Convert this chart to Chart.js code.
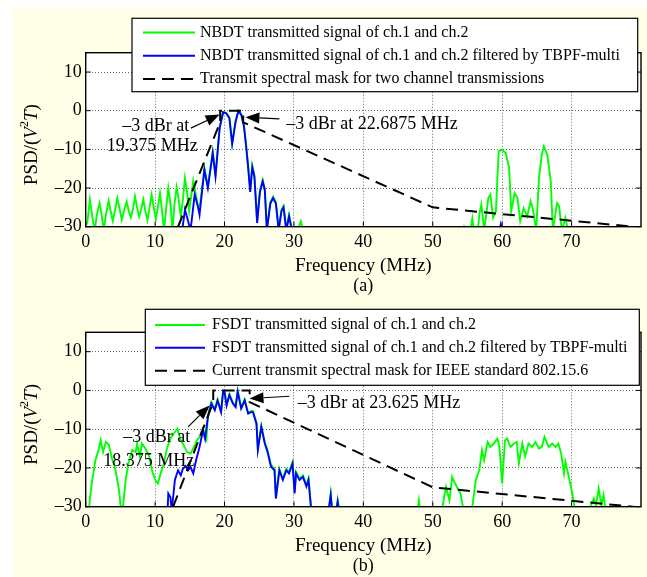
<!DOCTYPE html>
<html>
<head>
<meta charset="utf-8">
<script src="https://cdn.jsdelivr.net/npm/chart.js@4.4.0/dist/chart.umd.min.js"></script>
<style>
  html, body { margin: 0; padding: 0; background: #fff; }
  #page { position: relative; width: 647px; height: 577px; overflow: hidden; }
  #paper { position: absolute; left: 13px; top: 7px; width: 634px; height: 570px; background: #fffee6; }
  canvas { position: absolute; left: 0; }
  #chartA { top: 0; }
  #chartB { top: 296px; }
</style>
</head>
<body>
<div id="page">
  <div id="paper"></div>
  <canvas id="chartA" width="647" height="296"></canvas>
  <canvas id="chartB" width="647" height="281"></canvas>
</div>
<script>
// axis ticks (MHz / dB)
const xTicks = [0, 10, 20, 30, 40, 50, 60, 70];
const yTicks = [-30, -20, -10, 0, 10];

// (a) NBDT: [frequency MHz, PSD dB]
const nbdtRaw = [
  [0.2, -29.5], [0.6, -23.0], [1.0, -28], [1.3, -31], [1.6, -27], [2.0, -23.9], [2.3, -27], [2.6, -31],
  [2.9, -27], [3.3, -23.3], [3.6, -26], [3.9, -28.5], [4.2, -26], [4.55, -22.6], [4.9, -25.5], [5.2, -28.2],
  [5.5, -26], [5.9, -23.5], [6.2, -26], [6.5, -27.6], [6.8, -25.5], [7.1, -22.2], [7.4, -25], [7.7, -27.4],
  [8.0, -25.5], [8.3, -23.0], [8.6, -26], [8.9, -28.3], [9.2, -25], [9.5, -21.7], [9.8, -25], [10.1, -28],
  [10.4, -25], [10.7, -21.3], [11.0, -26], [11.3, -31], [11.6, -25], [11.9, -20.0], [12.2, -24], [12.5, -31],
  [12.8, -24], [13.1, -19.8], [13.4, -23], [13.7, -27.5], [14.0, -23], [14.3, -17.4], [14.6, -21], [14.9, -26],
  [15.2, -22], [15.5, -18.1], [15.8, -21], [16.2, -25], [16.5, -24], [17.1, -14.8], [17.6, -19.5], [18.3, -10.5],
  [18.7, -16.5], [19.3, -4.2], [19.8, -0.3], [20.2, -0.5], [20.7, -1.7], [21.1, -8.3], [21.6, -2.6], [22.0, 0],
  [22.4, -0.8], [22.8, -3.8], [23.1, -8.6], [23.4, -14.2], [23.7, -20.6], [24.0, -14.2], [24.3, -16.6], [24.7, -28.6],
  [25.1, -20.7], [25.5, -17.9], [25.8, -20.1], [26.1, -30.5], [26.6, -23.6], [27.0, -22.2], [27.4, -23.6], [27.8, -30.5],
  [28.2, -25.6], [28.5, -24.6], [28.9, -30.5], [29.3, -26.9], [29.7, -30.5], [30.5, -31], [31.0, -28.6], [31.3, -31],
  [54.3, -31], [54.5, -30], [54.7, -31], [55.4, -31], [55.7, -27.9], [55.9, -31], [56.5, -31], [56.7, -26.9],
  [57.0, -24.3], [57.4, -31], [57.7, -27], [58.0, -22.6], [58.3, -21.7], [58.7, -27.7], [59.1, -26], [59.3, -18],
  [59.5, -10.5], [59.8, -10.2], [60.0, -10.1], [60.3, -10.6], [60.5, -10.9], [61.0, -14.8], [61.3, -26], [61.8, -21.3],
  [62.2, -22.6], [62.6, -28.6], [63.1, -25.2], [63.6, -27.3], [64.1, -23.4], [64.4, -25.2], [64.9, -31], [65.3, -17.4],
  [65.7, -11.5], [66.0, -9.2], [66.5, -11.4], [67.0, -18.3], [67.3, -31], [67.9, -23.9], [68.2, -24.7], [68.6, -31],
  [69.1, -27.7], [69.5, -31]
];
const nbdtFiltered = [
  [13.9, -31], [14.3, -25.6], [14.7, -28.2], [15.1, -31], [15.7, -21.7], [16.2, -25], [16.4, -26.9], [17.1, -15.3],
  [17.6, -20], [18.3, -11], [18.7, -17], [19.3, -4.5], [19.8, -0.4], [20.2, -0.6], [20.7, -1.9], [21.1, -8.6],
  [21.6, -2.8], [22.0, -0.1], [22.4, -1.0], [22.8, -4], [23.1, -9], [23.4, -14.6], [23.7, -21], [24.0, -14.6],
  [24.3, -17], [24.7, -29], [25.1, -21], [25.5, -18.3], [25.8, -20.5], [26.1, -31], [26.6, -24], [27.0, -22.6],
  [27.4, -24], [27.8, -31], [28.2, -26], [28.5, -25], [28.9, -31], [29.3, -27.3], [29.7, -31],
  [59.6, -31], [59.8, -29.4], [60.0, -31]
];
const nbdtMask = [[13.3, -30], [19.375, -3], [19.375, 0], [22.6875, 0], [22.6875, -3], [50, -25], [80, -30.2]];

// (b) FSDT
const fsdtRaw = [
  [0.45, -31], [0.6, -28], [0.95, -23.1], [1.4, -18], [1.9, -15], [2.15, -12.9], [2.5, -15.9], [2.9, -13.3],
  [3.35, -14.1], [3.8, -17.6], [4.3, -20.6], [4.8, -25.7], [5.1, -31], [5.4, -29.6], [5.75, -23.1], [6.2, -18.4],
  [6.7, -15.4], [7.2, -15.9], [7.4, -13.7], [7.8, -17.1], [8.1, -13.7], [8.6, -15], [9.1, -16.7], [9.6, -21],
  [10.05, -23.1], [10.4, -24], [10.8, -21.4], [11.25, -18.9], [11.7, -15], [12.2, -12.4], [12.7, -11.1], [13.2, -9.9],
  [13.6, -12.4], [14.1, -14.1], [14.6, -15.9], [15.1, -16.3], [15.6, -14.6], [16.0, -12.9], [16.4, -12], [16.9, -9.8],
  [17.4, -12.5], [17.6, -6.5], [18.1, -3], [18.6, -4.8], [19.0, -2.3], [19.5, -5.3], [19.8, 0], [20.0, -0.2],
  [20.3, -3.6], [20.7, -1], [21.2, -3.1], [21.6, -4], [21.9, -0.1], [22.4, -4.4], [22.9, -2.3], [23.4, -5.7],
  [23.8, -5.3], [24.1, -5.3], [24.6, -8.3], [24.8, -15], [25.3, -9.1], [25.8, -13.3], [26.2, -15.5], [26.7, -19.3],
  [27.2, -20.2], [27.4, -27.5], [27.9, -20.2], [28.4, -22.7], [28.9, -20.2], [29.3, -21], [29.8, -18.5], [30.1, -26.2],
  [30.3, -21], [30.8, -22.7], [31.3, -21.9], [31.8, -24.4], [32.1, -22.7], [32.5, -31], [35.0, -31], [35.3, -26.6],
  [35.5, -31], [36.1, -31], [36.3, -28.3], [36.5, -31], [47.8, -31], [48.0, -28.3], [48.2, -31], [51.2, -31],
  [51.4, -30], [51.9, -24.9], [52.4, -28.3], [52.8, -22.3], [53.1, -23.6], [53.6, -25.3], [54.0, -26.6], [54.3, -29.6],
  [54.5, -31], [55.5, -31], [55.7, -30], [56.2, -23.1], [56.7, -20.6], [57.1, -15.4], [57.4, -18], [57.9, -13.3],
  [58.3, -14.6], [58.8, -13.7], [59.3, -12.4], [59.6, -14.6], [60.0, -24], [60.4, -12.9], [60.7, -12.4], [61.2, -14.6],
  [61.7, -13.7], [62.1, -13.3], [62.4, -18.9], [62.9, -13.7], [63.3, -17], [63.8, -13.7], [64.3, -14.6], [64.8, -13.3],
  [65.3, -15], [65.7, -14.6], [66.1, -12], [66.7, -14.6], [67.2, -13.7], [67.7, -14.6], [68.1, -13.7], [68.5, -16.3],
  [68.9, -21.4], [69.1, -18.4], [69.6, -22.3], [70.1, -26.6], [70.5, -31], [72.6, -31], [72.7, -30], [73.2, -27.9],
  [73.5, -29.6], [73.9, -25.3], [74.3, -29.6], [74.6, -27], [74.9, -31]
];
const fsdtFiltered = [
  [11.8, -31], [11.9, -26.6], [12.2, -27.5], [12.4, -31], [12.85, -23.1], [13.3, -20.6], [13.7, -21.9], [14.0, -20.2],
  [14.4, -19.5], [14.75, -20.6], [15.1, -19.8], [15.5, -21.4], [15.9, -18], [16.4, -14.6], [16.9, -10.3], [17.2, -12.5],
  [17.6, -6.9], [18.1, -3.4], [18.6, -5.1], [19.0, -2.6], [19.5, -5.6], [19.8, -0.2], [20.0, -0.4], [20.3, -3.9],
  [20.7, -1.2], [21.2, -3.4], [21.6, -4.3], [21.9, -0.3], [22.4, -4.7], [22.9, -2.6], [23.4, -6], [23.8, -5.6],
  [24.1, -5.6], [24.6, -8.6], [24.8, -15.4], [25.3, -9.4], [25.8, -13.7], [26.2, -15.9], [26.7, -19.7], [27.2, -20.6],
  [27.4, -27.9], [27.9, -20.6], [28.4, -23.1], [28.9, -20.6], [29.3, -21.4], [29.8, -18.9], [30.1, -26.6], [30.3, -21.4],
  [30.8, -23.1], [31.3, -22.3], [31.8, -24.8], [32.1, -23.1], [32.5, -31], [35.0, -31], [35.3, -27], [35.5, -31],
  [36.1, -31], [36.3, -28.7], [36.5, -31]
];
const fsdtMask = [[12.6, -30], [18.375, -3], [18.375, 0], [23.625, 0], [23.625, -3], [50, -25], [80, -30.2]];

// legend labels
const legendA = [
  'NBDT transmitted signal of ch.1 and ch.2',
  'NBDT transmitted signal of ch.1 and ch.2 filtered by TBPF-multi',
  'Transmit spectral mask for two channel transmissions'
];
const legendB = [
  'FSDT transmitted signal of ch.1 and ch.2',
  'FSDT transmitted signal of ch.1 and ch.2 filtered by TBPF-multi',
  'Current transmit spectral mask for IEEE standard 802.15.6'
];

// annotation texts
const notesA = [['\u20133 dBr at', '19.375 MHz'], ['\u20133 dBr at 22.6875 MHz']];
const notesB = [['\u20133 dBr at', '18.375 MHz'], ['\u20133 dBr at 23.625 MHz']];

const SERIF = '"Liberation Serif", "Times New Roman", serif';
const GREEN = '#00ff00';
const BLUE = '#0000ff';

// annotation placement in data coords (text anchors, arrow tail -> tip)
const placeA = [
  { pos: [[10.1, -4.1], [9.6, -9.2]], align: 'center', tail: [15.15, -4.5], tip: [19.3, -1.0] },
  { pos: [[28.9, -3.6]], align: 'left', tail: [27.9, -2.1], tip: [23.0, -1.7] }
];
const placeB = [
  { pos: [[10.25, -12.0], [9.1, -18.4]], align: 'center', tail: [14.75, -9.4], tip: [17.85, -3.9] },
  { pos: [[30.55, -3.3]], align: 'left', tail: [29.35, -1.5], tip: [23.6, -2.1] }
];

// arrow with filled head
function drawArrow(ctx, x1, y1, x2, y2) {
  const ang = Math.atan2(y2 - y1, x2 - x1);
  const len = 14, half = 5.5;
  const bx = x2 - len * Math.cos(ang), by = y2 - len * Math.sin(ang);
  ctx.beginPath();
  ctx.moveTo(x1, y1);
  ctx.lineTo(bx, by);
  ctx.stroke();
  ctx.beginPath();
  ctx.moveTo(x2, y2);
  ctx.lineTo(bx + half * Math.sin(ang), by - half * Math.cos(ang));
  ctx.lineTo(bx - half * Math.sin(ang), by + half * Math.cos(ang));
  ctx.closePath();
  ctx.fill();
}

// frame, inward ticks, legend, labels and notes
function makeDecor(cfg) {
  return {
    id: 'paperDecor',
    beforeDraw(chart) {
      const a = chart.chartArea, ctx = chart.ctx;
      ctx.save();
      ctx.fillStyle = '#fff';
      ctx.fillRect(a.left, a.top, a.right - a.left, a.bottom - a.top); // white plot area
      ctx.restore();
    },
    afterDraw(chart) {
      const { ctx, chartArea: a } = chart;
      const sx = chart.scales.x, sy = chart.scales.y;
      ctx.save();
      ctx.strokeStyle = '#000';
      ctx.fillStyle = '#000';
      ctx.lineWidth = 1.4;
      ctx.strokeRect(a.left, a.top, a.right - a.left, a.bottom - a.top); // frame

      // inward tick marks
      ctx.lineWidth = 1;
      ctx.beginPath();
      xTicks.forEach(v => {
        const px = sx.getPixelForValue(v);
        ctx.moveTo(px, a.bottom); ctx.lineTo(px, a.bottom - 5);
        ctx.moveTo(px, a.top); ctx.lineTo(px, a.top + 5);
      });
      yTicks.forEach(v => {
        const py = sy.getPixelForValue(v);
        ctx.moveTo(a.left, py); ctx.lineTo(a.left + 5, py);
        ctx.moveTo(a.right, py); ctx.lineTo(a.right - 5, py);
      });
      ctx.stroke();

      // annotations
      ctx.font = '18px ' + SERIF;
      ctx.textBaseline = 'middle';
      cfg.place.forEach((p, i) => {
        ctx.textAlign = p.align;
        cfg.notes[i].forEach((line, j) => {
          ctx.fillText(line, sx.getPixelForValue(p.pos[j][0]), sy.getPixelForValue(p.pos[j][1]));
        });
        ctx.lineWidth = 1.2;
        drawArrow(ctx, sx.getPixelForValue(p.tail[0]), sy.getPixelForValue(p.tail[1]),
          sx.getPixelForValue(p.tip[0]), sy.getPixelForValue(p.tip[1]));
      });

      // legend box
      const L = cfg.legend;
      ctx.fillStyle = '#fff';
      ctx.fillRect(L.left, L.top, L.width, L.height);
      ctx.lineWidth = 1.2;
      ctx.strokeRect(L.left, L.top, L.width, L.height);
      const ds = chart.data.datasets;
      [2, 1, 0].forEach((k, r) => {
        const y = L.rows[r];
        ctx.strokeStyle = ds[k].borderColor;
        ctx.lineWidth = ds[k].borderWidth;
        ctx.setLineDash(ds[k].borderDash || []);
        ctx.beginPath();
        ctx.moveTo(L.sample[0], y);
        ctx.lineTo(L.sample[1], y);
        ctx.stroke();
        ctx.setLineDash([]);
        ctx.fillStyle = '#000';
        ctx.font = '16px ' + SERIF;
        ctx.textAlign = 'left';
        ctx.fillText(ds[k].label, L.textX, y);
      });

      // x title and caption
      const cx = (a.left + a.right) / 2;
      ctx.font = '19px ' + SERIF;
      ctx.textAlign = 'center';
      ctx.fillText('Frequency (MHz)', cx, a.bottom + 39);
      ctx.font = '18px ' + SERIF;
      ctx.fillText(cfg.caption, cx, a.bottom + 60);

      // y title: PSD/(V^2 T) with italics
      const parts = [
        { t: 'PSD/(', f: '19px ' + SERIF, dy: 0 },
        { t: 'V', f: 'italic 19px ' + SERIF, dy: 0 },
        { t: '2', f: '12px ' + SERIF, dy: -7 },
        { t: 'T', f: 'italic 19px ' + SERIF, dy: 0 },
        { t: ')', f: '19px ' + SERIF, dy: 0 }
      ];
      let total = 0;
      parts.forEach(p => { ctx.font = p.f; p.w = ctx.measureText(p.t).width; total += p.w; });
      ctx.translate(32, (a.top + a.bottom) / 2 + 5);
      ctx.rotate(-Math.PI / 2);
      ctx.textAlign = 'left';
      let px = -total / 2;
      parts.forEach(p => {
        ctx.font = p.f;
        ctx.fillText(p.t, px, p.dy);
        px += p.w;
      });
      ctx.restore();
    }
  };
}

function makePanel(canvasId, raw, filtered, mask, names, cfg) {
  const toPoints = arr => arr.map(p => ({ x: p[0], y: p[1] }));
  const common = { pointRadius: 0, tension: 0, fill: false, clip: 0 };
  const tickFont = { family: SERIF, size: 18 };
  return new Chart(document.getElementById(canvasId), {
    type: 'line',
    data: {
      datasets: [
        Object.assign({ label: names[2], data: toPoints(mask), borderColor: '#000', borderWidth: 2, borderDash: [12, 7] }, common),
        Object.assign({ label: names[1], data: toPoints(filtered), borderColor: BLUE, borderWidth: 1.9 }, common),
        Object.assign({ label: names[0], data: toPoints(raw), borderColor: GREEN, borderWidth: 1.9 }, common)
      ]
    },
    options: {
      responsive: false,
      animation: false,
      events: [],
      layout: { padding: { top: cfg.top, right: 6, left: 0, bottom: 0 } },
      plugins: { legend: { display: false }, tooltip: { enabled: false } },
      scales: {
        x: {
          type: 'linear', min: 0, max: 80,
          afterBuildTicks: s => { s.ticks = xTicks.map(v => ({ value: v })); },
          afterFit: s => { s.height = cfg.axisH; },
          ticks: { font: tickFont, color: '#000', padding: 5, maxRotation: 0, autoSkip: false },
          grid: { color: 'rgba(0,0,0,0.6)', lineWidth: 1, drawTicks: false },
          border: { display: false, dash: [1, 2] }
        },
        y: {
          type: 'linear', min: -30, max: 15,
          afterBuildTicks: s => { s.ticks = yTicks.map(v => ({ value: v })); },
          afterFit: s => { s.width = 85.7; },
          ticks: {
            font: tickFont, color: '#000', padding: 4,
            callback: v => (v < 0 ? '\u2013' + Math.abs(v) : String(v))
          },
          grid: { color: 'rgba(0,0,0,0.6)', lineWidth: 1, drawTicks: false },
          border: { display: false, dash: [1, 2] }
        }
      }
    },
    plugins: [makeDecor(cfg)]
  });
}

makePanel('chartA', nbdtRaw, nbdtFiltered, nbdtMask, legendA, {
  top: 52.7, axisH: 69.3, caption: '(a)', notes: notesA, place: placeA,
  legend: { left: 132, top: 18.3, width: 505.7, height: 73.4, rows: [32.5, 55.8, 79.1], sample: [143, 195], textX: 200 }
});
makePanel('chartB', fsdtRaw, fsdtFiltered, fsdtMask, legendB, {
  top: 36.3, axisH: 70.3, caption: '(b)', notes: notesB, place: placeB,
  legend: { left: 145.3, top: 13.3, width: 494, height: 76, rows: [29, 51.7, 74.7], sample: [155, 205], textX: 212 }
});
</script>
</body>
</html>
